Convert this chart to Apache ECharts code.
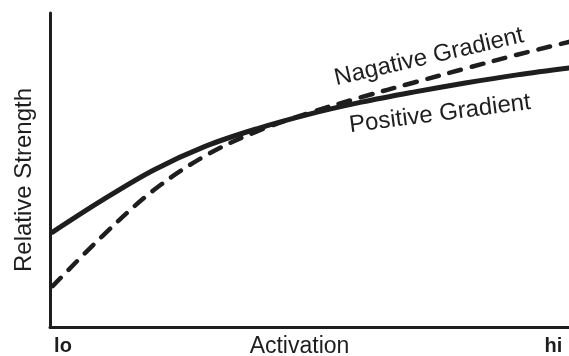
<!DOCTYPE html>
<html>
<head>
<meta charset="utf-8">
<script src="https://cdn.jsdelivr.net/npm/echarts@6/dist/echarts.min.js"></script>
<style>
  html, body { margin: 0; padding: 0; background: #fff; }
  #chart { width: 569px; height: 356px; }
</style>
</head>
<body>
<div id="chart"></div>
<script>
// activation (0 = lo, 100 = hi)
const activation = [0.5, 10, 20, 30, 40, 50, 60, 70, 80, 90, 100]
// relative strength
const positiveGradient = [30.2, 40.3, 50.0, 57.6, 63.2, 67.8, 71.6, 74.8, 77.7, 80.3, 82.5]
const negativeGradient = [13.0, 28.8, 43.6, 54.6, 62.4, 68.2, 73.2, 77.8, 82.3, 86.7, 90.8]
const tickValues = [2.5, 97]
const tickLabels = ['lo', 'hi']

const ink = '#1e1e1e'
const font = '"Liberation Sans", Arial, sans-serif'

function pairs (xs, ys) {
  return xs.map((x, i) => [x, ys[i]])
}

const chart = echarts.init(document.getElementById('chart'))

const option = {
  animation: false,
  backgroundColor: '#fff',
  grid: {
    left: 50,
    right: 0,
    top: 13,
    bottom: 29,
    containLabel: false,
    outerBoundsMode: 'none'
  },
  xAxis: {
    type: 'value',
    min: 0,
    max: 100,
    name: 'Activation',
    nameLocation: 'middle',
    nameGap: 8,
    nameMoveOverlap: false,
    nameTextStyle: {
      color: ink,
      fontFamily: font,
      fontSize: 23,
      verticalAlign: 'top',
      padding: [0, 20, 0, 0]
    },
    axisLine: { lineStyle: { color: ink, width: 3 } },
    axisTick: { show: false },
    splitLine: { show: false },
    axisLabel: {
      customValues: tickValues,
      formatter: v => tickLabels[tickValues.indexOf(v)] || '',
      color: ink,
      fontFamily: font,
      fontWeight: 'bold',
      fontSize: 20,
      margin: 9
    }
  },
  yAxis: {
    type: 'value',
    min: 0,
    max: 100,
    name: 'Relative Strength',
    nameLocation: 'middle',
    nameRotate: 90,
    nameGap: 14,
    nameMoveOverlap: false,
    nameTextStyle: {
      color: ink,
      fontFamily: font,
      fontSize: 24,
      padding: [0, 20, 0, 0]
    },
    axisLine: { show: true, lineStyle: { color: ink, width: 3 } },
    axisTick: { show: false },
    axisLabel: { show: false },
    splitLine: { show: false }
  },
  series: [
    {
      name: 'Positive Gradient',
      type: 'line',
      data: pairs(activation, positiveGradient),
      smooth: 0.35,
      showSymbol: false,
      lineStyle: { color: ink, width: 5, cap: 'round' }
    },
    {
      name: 'Nagative Gradient',
      type: 'line',
      data: pairs(activation, negativeGradient),
      smooth: 0.35,
      showSymbol: false,
      lineStyle: { color: ink, width: 4.5, type: [12, 11], cap: 'round' }
    }
  ],
  graphic: [
    {
      type: 'text',
      x: 429,
      y: 57,
      rotation: 13 * Math.PI / 180,
      style: {
        text: 'Nagative Gradient',
        fill: ink,
        font: '24px ' + font,
        textAlign: 'center',
        textVerticalAlign: 'middle'
      }
    },
    {
      type: 'text',
      x: 440,
      y: 114,
      rotation: 7.4 * Math.PI / 180,
      style: {
        text: 'Positive Gradient',
        fill: ink,
        font: '24px ' + font,
        textAlign: 'center',
        textVerticalAlign: 'middle'
      }
    }
  ]
}

chart.setOption(option)
</script>
</body>
</html>
